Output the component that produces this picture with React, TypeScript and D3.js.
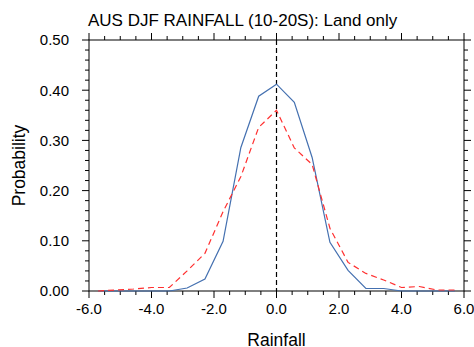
import React from "react";
import * as d3 from "d3";

// Bin centres of the rainfall anomaly distribution
const binCentres = [
  -5.71, -5.14, -4.57, -4.0, -3.43, -2.86, -2.29, -1.71, -1.14, -0.57, 0,
  0.57, 1.14, 1.71, 2.29, 2.86, 3.43, 4.0, 4.57, 5.14, 5.71,
];
// Observed probability (solid blue)
const observed = [
  0, 0, 0, 0, 0, 0.006, 0.024, 0.099, 0.286, 0.388, 0.412, 0.376, 0.266,
  0.097, 0.041, 0.005, 0.005, 0, 0, 0, 0,
];
// Model probability (dashed red)
const model = [
  0, 0.002, 0.004, 0.007, 0.007, 0.04, 0.075, 0.158, 0.228, 0.326, 0.36,
  0.285, 0.252, 0.125, 0.057, 0.035, 0.022, 0.007, 0.009, 0.002, 0.002,
];
const xMajorTicks = [-6, -4, -2, 0, 2, 4, 6];
const yMajorTicks = [0, 0.1, 0.2, 0.3, 0.4, 0.5];

const W = 474;
const H = 347;
const left = 89;
const right = 464;
const top = 40;
const bottom = 291;

export default function App() {
  const x = d3.scaleLinear().domain([-6, 6]).range([left, right]);
  const y = d3.scaleLinear().domain([0, 0.5]).range([bottom, top]);

  const line = d3
    .line<number>()
    .x((_, i) => x(binCentres[i]))
    .y((d) => y(d));

  const xMinor = d3.range(-6, 6.001, 0.5).filter((v) => Math.abs(v % 2) > 1e-6);
  const yMinor = d3.range(0, 0.5001, 0.02).filter((v) => Math.abs(Math.round(v * 100) % 10) !== 0);

  const font = "'Liberation Sans', Arial, Helvetica, sans-serif";
  const major = 7;
  const minor = 4;

  return (
    <svg
      width={W}
      height={H}
      style={{ position: "absolute", left: 0, top: 0, background: "#fff" }}
      fontFamily={font}
    >
      <rect x={0} y={0} width={W} height={H} fill="#fff" />
      {/* frame */}
      <rect
        x={left}
        y={top}
        width={right - left}
        height={bottom - top}
        fill="none"
        stroke="#000"
        strokeWidth={1}
      />
      {/* x ticks: bottom and top */}
      {xMajorTicks.map((v) => (
        <g key={"xM" + v}>
          <line x1={x(v)} x2={x(v)} y1={bottom} y2={bottom + major} stroke="#000" />
          <line x1={x(v)} x2={x(v)} y1={top} y2={top - major} stroke="#000" />
          <text
            x={x(v)}
            y={314}
            fontSize={15}
            textAnchor="middle"
            fill="#000"
          >
            {v.toFixed(1)}
          </text>
        </g>
      ))}
      {xMinor.map((v) => (
        <g key={"xm" + v}>
          <line x1={x(v)} x2={x(v)} y1={bottom} y2={bottom + minor} stroke="#000" />
          <line x1={x(v)} x2={x(v)} y1={top} y2={top - minor} stroke="#000" />
        </g>
      ))}
      {/* y ticks: left and right */}
      {yMajorTicks.map((v) => (
        <g key={"yM" + v}>
          <line x1={left} x2={left - major} y1={y(v)} y2={y(v)} stroke="#000" />
          <line x1={right} x2={right + major} y1={y(v)} y2={y(v)} stroke="#000" />
          <text
            x={69}
            y={y(v) + 5.4}
            fontSize={15}
            textAnchor="end"
            fill="#000"
          >
            {v.toFixed(2)}
          </text>
        </g>
      ))}
      {yMinor.map((v) => (
        <g key={"ym" + v}>
          <line x1={left} x2={left - minor} y1={y(v)} y2={y(v)} stroke="#000" />
          <line x1={right} x2={right + minor} y1={y(v)} y2={y(v)} stroke="#000" />
        </g>
      ))}
      {/* zero reference */}
      <line
        x1={x(0)}
        x2={x(0)}
        y1={top}
        y2={bottom}
        stroke="#000"
        strokeWidth={1.2}
        strokeDasharray="5,3"
      />
      {/* series */}
      <path d={line(observed) ?? ""} fill="none" stroke="#4470b0" strokeWidth={1.2} />
      <path
        d={line(model) ?? ""}
        fill="none"
        stroke="#ff3030"
        strokeWidth={1.2}
        strokeDasharray="6,4"
      />
      {/* titles */}
      <text x={88} y={26} fontSize={17} fill="#000">
        AUS DJF RAINFALL (10-20S): Land only
      </text>
      <text x={x(0)} y={346} fontSize={17.5} textAnchor="middle" fill="#000">
        Rainfall
      </text>
      <text
        transform={`translate(25,${(top + bottom) / 2}) rotate(-90)`}
        fontSize={17.5}
        textAnchor="middle"
        fill="#000"
      >
        Probability
      </text>
    </svg>
  );
}
